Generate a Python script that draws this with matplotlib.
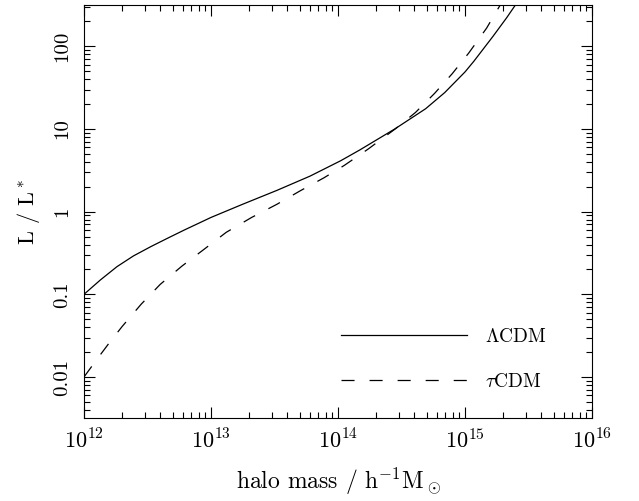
import numpy as np
import matplotlib
matplotlib.use('Agg')
import matplotlib.pyplot as plt
from matplotlib.ticker import LogLocator, NullFormatter

plt.rcParams['font.family'] = 'serif'
plt.rcParams['font.serif'] = ['cmr10', 'DejaVu Serif']
plt.rcParams['mathtext.fontset'] = 'cm'
plt.rcParams['axes.unicode_minus'] = False
plt.rcParams['axes.formatter.use_mathtext'] = True
plt.rcParams['lines.scale_dashes'] = False

# log10 halo mass [h^-1 Msun] and log10 L/L*
lcdm_logm = [12.0, 12.13, 12.26, 12.39, 12.53, 12.66, 12.79, 12.92, 13.0, 13.25,
             13.52, 13.78, 14.02, 14.17, 14.45, 14.69, 14.84, 15.0, 15.07, 15.22,
             15.33, 15.40, 15.45]
lcdm_logl = [-1.0, -0.825, -0.665, -0.535, -0.42, -0.32, -0.222, -0.128, -0.07, 0.09,
             0.258, 0.43, 0.615, 0.745, 1.003, 1.245, 1.44, 1.69, 1.82, 2.12,
             2.35, 2.507, 2.62]

tcdm_logm = [12.0, 12.1, 12.2, 12.3, 12.45, 12.6, 12.77, 12.95, 13.12, 13.32,
             13.52, 13.70, 13.89, 14.05, 14.24, 14.45, 14.61, 14.76, 14.90, 15.03,
             15.17, 15.28, 15.32]
tcdm_logl = [-2.0, -1.79, -1.585, -1.39, -1.12, -0.88, -0.66, -0.45, -0.25, -0.07,
             0.09, 0.25, 0.41, 0.56, 0.76, 1.0, 1.2, 1.43, 1.67, 1.92,
             2.22, 2.507, 2.62]

xticks = [1e12, 1e13, 1e14, 1e15, 1e16]
xticklabels = [r'$10^{12}$', r'$10^{13}$', r'$10^{14}$', r'$10^{15}$', r'$10^{16}$']
yticks = [0.01, 0.1, 1, 10, 100]
yticklabels = ['0.01', '0.1', '1', '10', '100']

fig = plt.figure(figsize=(6.39, 5.01), dpi=100)
ax = fig.add_axes([84/639, 1 - 418.3/501, (592 - 84)/639, (418.3 - 5)/501])

ax.plot(10**np.array(lcdm_logm), 10**np.array(lcdm_logl), color='black', lw=0.9,
        label=r'$\Lambda$CDM')
ax.plot(10**np.array(tcdm_logm), 10**np.array(tcdm_logl), color='black', lw=0.9,
        dashes=(9.4, 10.8), label=r'$\tau$CDM')

ax.set_xscale('log')
ax.set_yscale('log')
ax.set_xlim(1e12, 1e16)
ax.set_ylim(10**-2.5, 10**2.5)

ax.set_xticks(xticks)
ax.set_xticklabels(xticklabels, fontsize=16)
ax.set_yticks(yticks)
ax.set_yticklabels(yticklabels, fontsize=15, rotation=90, va='center')
ax.xaxis.set_minor_locator(LogLocator(base=10, subs=np.arange(2, 10)))
ax.yaxis.set_minor_locator(LogLocator(base=10, subs=np.arange(2, 10)))
ax.xaxis.set_minor_formatter(NullFormatter())
ax.yaxis.set_minor_formatter(NullFormatter())

ax.tick_params(which='both', direction='in', top=True, right=True, width=0.8)
ax.tick_params(which='major', length=8)
ax.tick_params(which='minor', length=4.3)
ax.tick_params(axis='x', which='major', pad=7)
ax.tick_params(axis='y', which='major', pad=9)
for s in ax.spines.values():
    s.set_linewidth(0.8)

ax.set_xlabel(r'halo mass / h$^{-1}$M$_\odot$', fontsize=17, labelpad=10)
ax.set_ylabel(r'L / L$^*$', fontsize=16, labelpad=8)

ax.legend(loc='lower right', bbox_to_anchor=(0.91, 0.066), frameon=False,
          fontsize=14, handlelength=6.5, handletextpad=0.9, labelspacing=1.4,
          borderpad=0, borderaxespad=0)

fig.savefig('out.png', dpi=100)
